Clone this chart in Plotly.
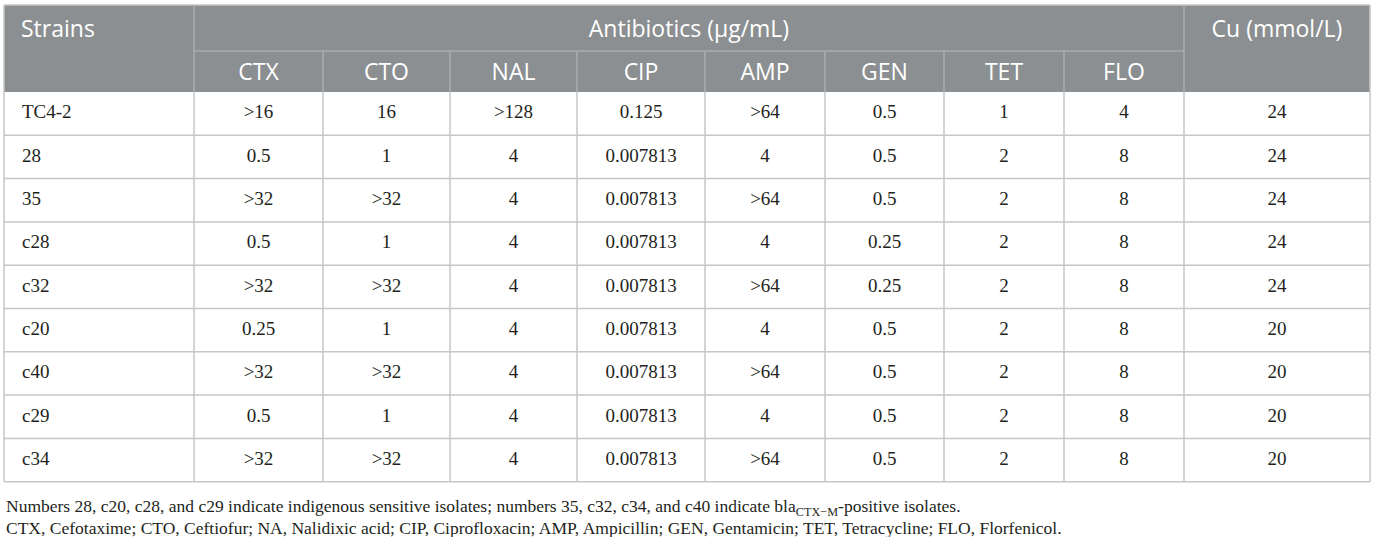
import plotly.graph_objects as go
import numpy as np

# ---------------- data ----------------
strains = ["TC4-2", "28", "35", "c28", "c32", "c20", "c40", "c29", "c34"]
antibiotics = ["CTX", "CTO", "NAL", "CIP", "AMP", "GEN", "TET", "FLO"]
CTX = [">16", "0.5", ">32", "0.5", ">32", "0.25", ">32", "0.5", ">32"]
CTO = ["16", "1", ">32", "1", ">32", "1", ">32", "1", ">32"]
NAL = [">128", "4", "4", "4", "4", "4", "4", "4", "4"]
CIP = ["0.125", "0.007813", "0.007813", "0.007813", "0.007813",
       "0.007813", "0.007813", "0.007813", "0.007813"]
AMP = [">64", "4", ">64", "4", ">64", "4", ">64", "4", ">64"]
GEN = ["0.5", "0.5", "0.5", "0.25", "0.25", "0.5", "0.5", "0.5", "0.5"]
TET = ["1", "2", "2", "2", "2", "2", "2", "2", "2"]
FLO = ["4", "8", "8", "8", "8", "8", "8", "8", "8"]
Cu = ["24", "24", "24", "24", "24", "20", "20", "20", "20"]
header_strains = "Strains"
header_antibiotics = "Antibiotics (\u03bcg/mL)"
header_cu = "Cu (mmol/L)"
footnote1 = ("Numbers 28, c20, c28, and c29 indicate indigenous sensitive isolates; "
             "numbers 35, c32, c34, and c40 indicate bla<sub>CTX\u2212M</sub>-positive isolates.")
footnote2 = ("CTX, Cefotaxime; CTO, Ceftiofur; NA, Nalidixic acid; CIP, Ciprofloxacin; "
             "AMP, Ampicillin; GEN, Gentamicin; TET, Tetracycline; FLO, Florfenicol.")

value_cols = [CTX, CTO, NAL, CIP, AMP, GEN, TET, FLO, Cu]

# ---------------- layout / style ----------------
W, H = 1375, 537
left, top = 4, 5
col_widths = [190, 129, 127, 127, 128, 120, 119, 120, 120, 186]
h_head1, h_head2, h_row = 46, 41, 43.3
head_text_shift = 3
head_fill = "#8b8f91"
head_line = "#a9adaf"
grid_line = "#c6c6c6"
text_col = "#231f20"
serif = "Liberation Serif"
sans = "Open Sans"

x_edges = np.concatenate([[left], left + np.cumsum(col_widths)])
y_head_mid = top + h_head1
y_head_bot = y_head_mid + h_head2
n_rows = len(strains)
y_edges = y_head_bot + h_row * np.arange(n_rows + 1)
x_right = x_edges[-1]

fig = go.Figure()
shapes = []
# header background
shapes.append(dict(type="rect", x0=x_edges[0], x1=x_right, y0=top, y1=y_head_bot,
                   fillcolor=head_fill, line=dict(width=0), layer="below"))
# header lines
shapes.append(dict(type="line", x0=x_edges[0], x1=x_right, y0=top, y1=top,
                   line=dict(color=grid_line, width=1.5)))
shapes.append(dict(type="line", x0=x_edges[1], x1=x_edges[-2], y0=y_head_mid, y1=y_head_mid,
                   line=dict(color=head_line, width=1.5)))
for i, xe in enumerate(x_edges):
    if i in (0, len(x_edges) - 1):
        shapes.append(dict(type="line", x0=xe, x1=xe, y0=top, y1=y_edges[-1],
                           line=dict(color=grid_line, width=1.5)))
    elif i in (1, len(x_edges) - 2):
        shapes.append(dict(type="line", x0=xe, x1=xe, y0=top, y1=y_head_bot,
                           line=dict(color=head_line, width=1.5)))
        shapes.append(dict(type="line", x0=xe, x1=xe, y0=y_head_bot, y1=y_edges[-1],
                           line=dict(color=grid_line, width=1.5)))
    else:
        shapes.append(dict(type="line", x0=xe, x1=xe, y0=y_head_mid, y1=y_head_bot,
                           line=dict(color=head_line, width=1.5)))
        shapes.append(dict(type="line", x0=xe, x1=xe, y0=y_head_bot, y1=y_edges[-1],
                           line=dict(color=grid_line, width=1.5)))
for ye in y_edges[1:]:
    shapes.append(dict(type="line", x0=x_edges[0], x1=x_right, y0=ye, y1=ye,
                       line=dict(color=grid_line, width=1.5)))

# header texts
fig.add_trace(go.Scatter(
    x=[x_edges[0] + 17, (x_edges[1] + x_edges[-2]) / 2, (x_edges[-2] + x_edges[-1]) / 2],
    y=[top + h_head1 / 2 + head_text_shift] * 3,
    text=[header_strains, header_antibiotics, header_cu],
    mode="text", textposition=["middle right", "middle center", "middle center"],
    textfont=dict(family=sans, size=23, color="white"),
    hoverinfo="skip", showlegend=False))
fig.add_trace(go.Scatter(
    x=[(x_edges[i + 1] + x_edges[i + 2]) / 2 for i in range(len(antibiotics))],
    y=[(y_head_mid + y_head_bot) / 2 + head_text_shift] * len(antibiotics),
    text=antibiotics, mode="text", textposition="middle center",
    textfont=dict(family=sans, size=23, color="white"),
    hoverinfo="skip", showlegend=False))

# body
row_mid = (y_edges[:-1] + y_edges[1:]) / 2
fig.add_trace(go.Scatter(
    x=[x_edges[0] + 18] * n_rows, y=row_mid, text=strains,
    mode="text", textposition="middle right",
    textfont=dict(family=serif, size=19, color=text_col),
    hoverinfo="skip", showlegend=False))
for j, col in enumerate(value_cols):
    xc = (x_edges[j + 1] + x_edges[j + 2]) / 2
    fig.add_trace(go.Scatter(
        x=[xc] * n_rows, y=row_mid, text=col,
        mode="text", textposition="middle center",
        textfont=dict(family=serif, size=19, color=text_col),
        hoverinfo="skip", showlegend=False))

annotations = [
    dict(x=x_edges[0], y=y_edges[-1] + 26, xref="x", yref="y", text=footnote1,
         showarrow=False, xanchor="left", yanchor="middle",
         font=dict(family=serif, size=17.5, color=text_col)),
    dict(x=x_edges[0], y=y_edges[-1] + 46, xref="x", yref="y", text=footnote2,
         showarrow=False, xanchor="left", yanchor="middle",
         font=dict(family=serif, size=17.5, color=text_col)),
]

fig.update_layout(
    width=W, height=H,
    margin=dict(l=0, r=0, t=0, b=0),
    paper_bgcolor="white", plot_bgcolor="white",
    xaxis=dict(range=[0, W], visible=False, fixedrange=True),
    yaxis=dict(range=[H, 0], visible=False, fixedrange=True),
    shapes=shapes, annotations=annotations,
)
fig.write_html("out.html", post_script="document.body.style.margin='0';",
               config={"displayModeBar": False})
